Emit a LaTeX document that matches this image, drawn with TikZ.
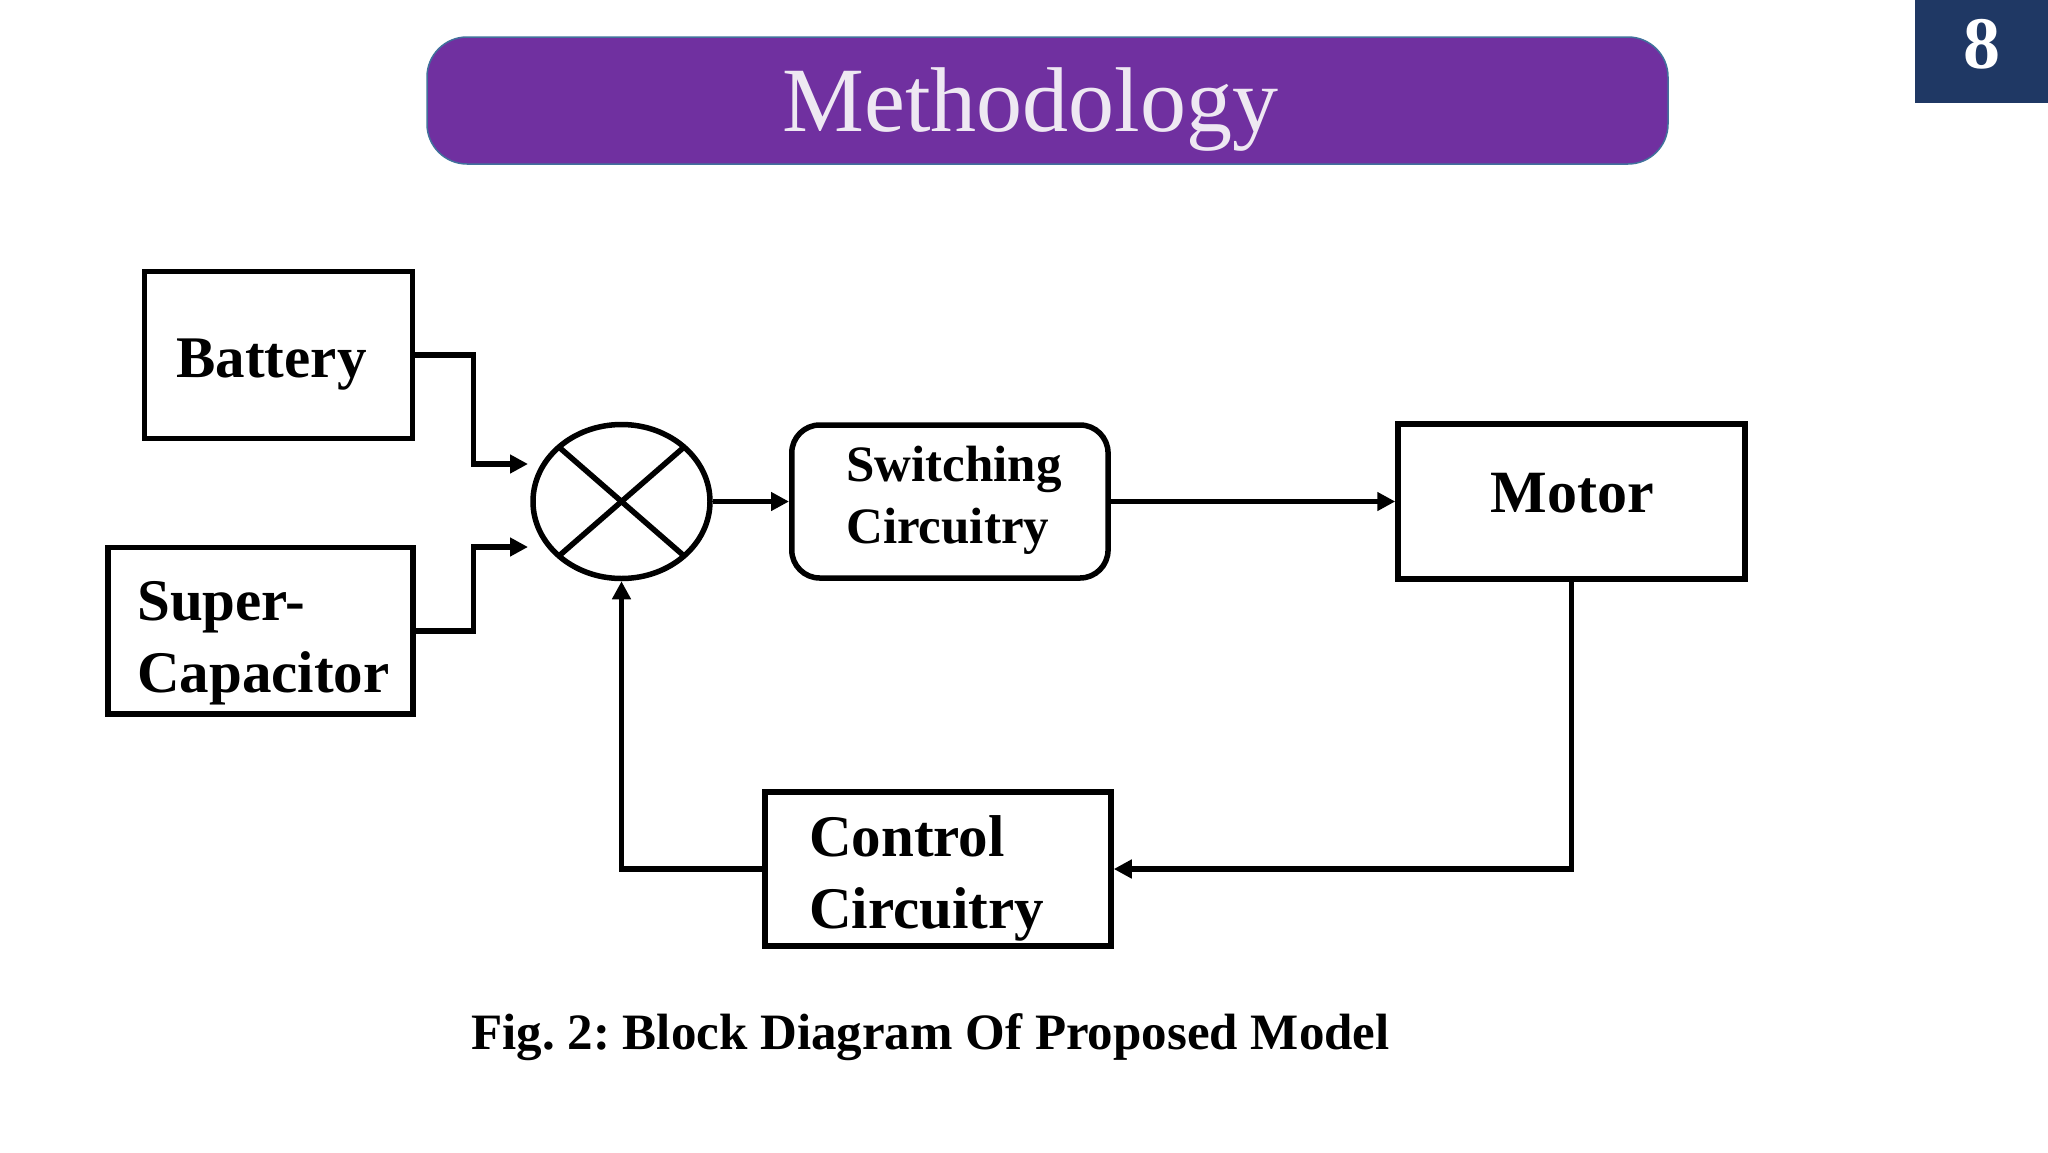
\documentclass[tikz,border=0pt]{standalone}
\usepackage{fontspec}
\setmainfont{Liberation Serif}
\usetikzlibrary{arrows.meta,shapes.geometric}
\definecolor{barpurple}{HTML}{7030A0}
\definecolor{barborder}{HTML}{41719C}
\definecolor{titletext}{HTML}{EEE8F2}
\definecolor{badgenavy}{HTML}{1F3864}
\tikzset{
  blk/.style={draw=black, line width=5.5pt, inner sep=0pt},
  conn/.style={line width=5.5pt, -{Triangle[length=18pt,width=18pt]}},
  lbl/.style={inner sep=0pt, font=\bfseries\fontsize{59}{70}\selectfont},
  slbl/.style={inner sep=0pt, font=\bfseries\fontsize{51}{60}\selectfont}
}
\frenchspacing
\begin{document}
\begin{tikzpicture}[x=1pt,y=-1pt]
\path[use as bounding box, fill=white] (0,0) rectangle (2048,1152);

% title bar
\node[draw=barborder, line width=1.5pt, fill=barpurple, rounded corners=40pt,
      minimum width=1241pt, minimum height=127pt, inner sep=0pt] (title) at (1047.5,100.5) {};
\node[anchor=base, inner sep=0pt, text=titletext, font=\fontsize{92}{100}\selectfont] (titletxt) at (1030.5,131.7) {Methodology};

% page badge
\node[fill=badgenavy, minimum width=133pt, minimum height=103pt, inner sep=0pt] (badge) at (1981.5,51.5) {};
\node[anchor=base, inner sep=0pt, text=white, font=\bfseries\fontsize{74}{80}\selectfont] (badgetxt) at (1981.5,68.3) {8};

% blocks
\node[blk, minimum width=268pt, minimum height=167pt] (bat) at (278.6,355) {};
\node[lbl, anchor=base] (batL) at (271.5,377) {Battery};

\node[blk, minimum width=305pt, minimum height=166.5pt] (sc) at (260.4,630.75) {};
\node[lbl, anchor=base west] (scL1) at (137,620) {Super-};
\node[lbl, anchor=base west] (scL2) at (137,692) {Capacitor};

\node[draw=black, line width=5.5pt, ellipse, minimum width=177pt, minimum height=154pt, inner sep=0pt] (sum) at (621.5,501.5) {};
\draw[line width=5.5pt] ([shift={(135:88.5pt and 77pt)}]sum.center) -- ([shift={(-45:88.5pt and 77pt)}]sum.center);
\draw[line width=5.5pt] ([shift={(45:88.5pt and 77pt)}]sum.center) -- ([shift={(225:88.5pt and 77pt)}]sum.center);

\node[blk, rounded corners=28pt, minimum width=316.3pt, minimum height=153pt] (sw) at (949.9,501.5) {};
\node[slbl, anchor=base west] (swL1) at (846,481.7) {Switching};
\node[slbl, anchor=base west] (swL2) at (846,543.3) {Circuitry};

\node[blk, minimum width=347pt, minimum height=155pt] (mot) at (1571.5,501.5) {};
\node[lbl, font=\bfseries\fontsize{60}{70}\selectfont, anchor=base] (motL) at (1572,512.7) {Motor};

\node[blk, minimum width=346pt, minimum height=154pt] (ctrl) at (938,869) {};
\node[lbl, anchor=base west] (ctrlL1) at (809,856.7) {Control};
\node[lbl, anchor=base west] (ctrlL2) at (809,928.3) {Circuitry};

% connector end points at the summing junction
\coordinate (inB) at (528,464);
\coordinate (inS) at (528,547);

% connectors
\draw[conn] (bat.east) -- ++(58,0) |- (inB);
\draw[conn] (sc.east) -- ++(58,0) |- (inS);
\draw[conn] (sum.east) -- (sw.west);
\draw[conn] (sw.east) -- (mot.west);
\draw[conn] (mot.south) |- (ctrl.east);
\draw[conn] (ctrl.west) -| (sum.south);

% caption
\node[anchor=base, inner sep=0pt, font=\bfseries\fontsize{51}{60}\selectfont] (caption) at (930.5,1049) {Fig. 2: Block Diagram Of Proposed Model};
\end{tikzpicture}
\end{document}
